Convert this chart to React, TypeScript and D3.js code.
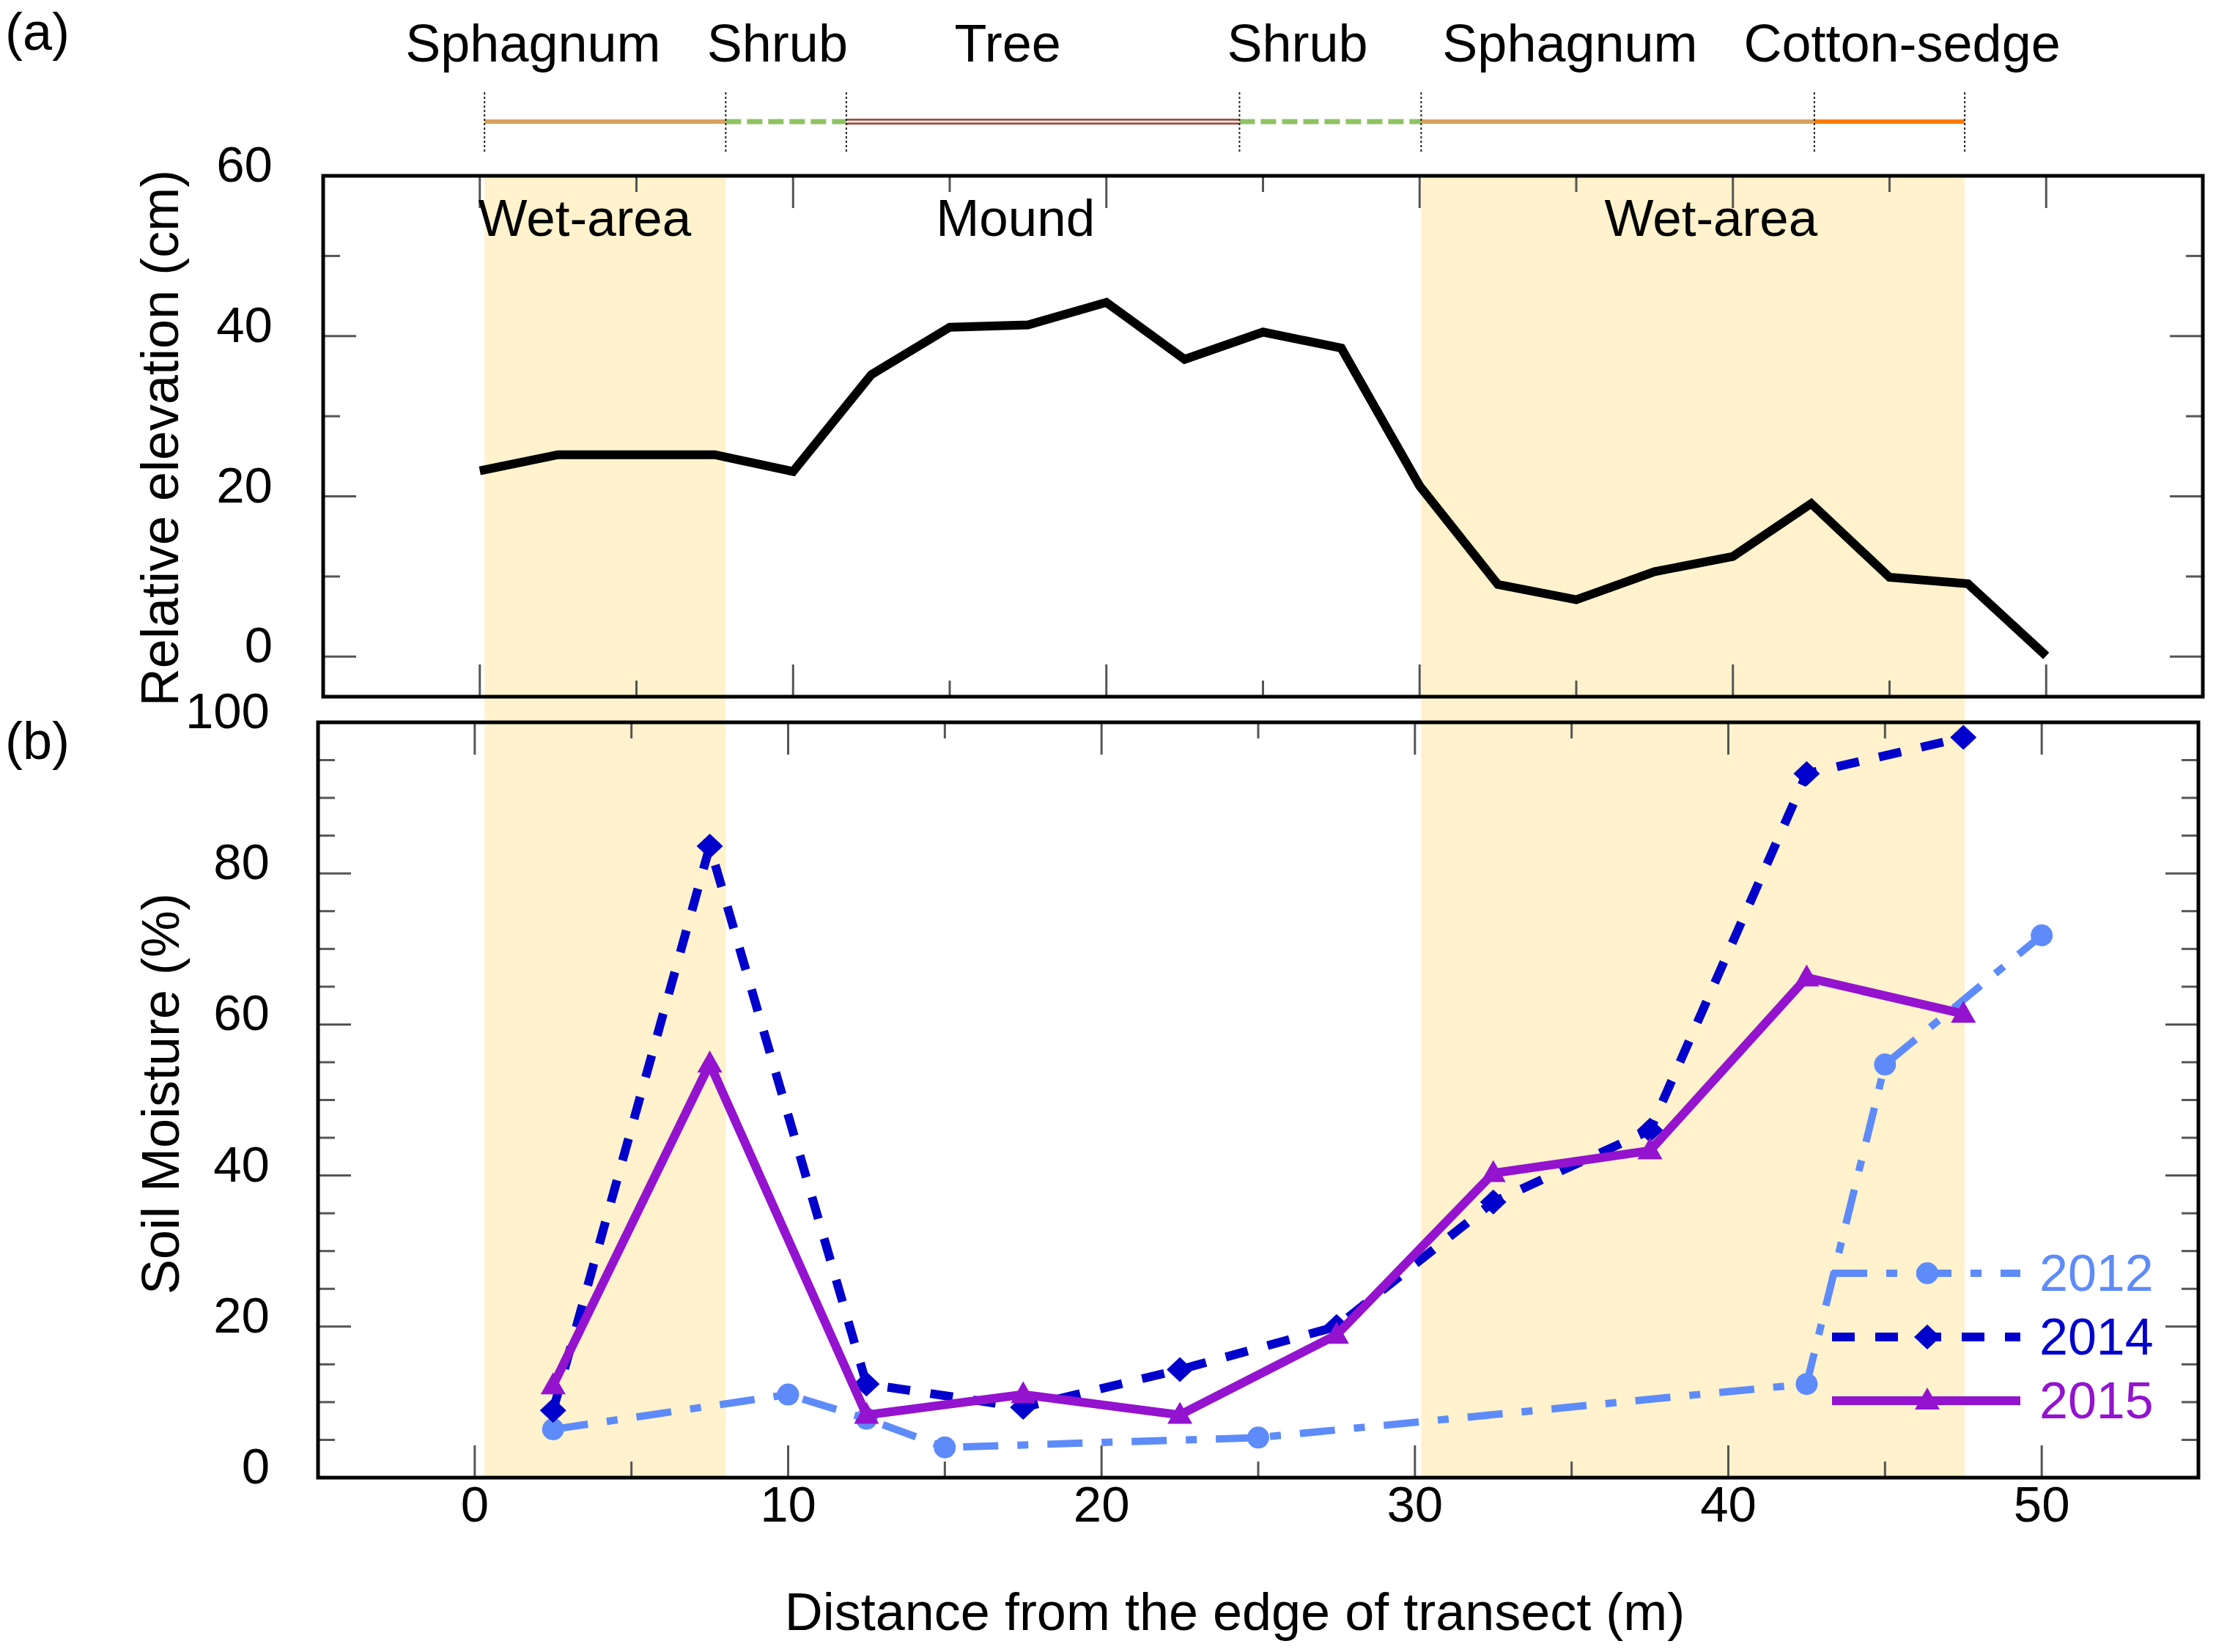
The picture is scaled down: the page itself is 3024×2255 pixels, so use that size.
// @ts-nocheck
import React from "react";
import * as d3 from "d3";

// (a) relative elevation along the transect
const elevationDistance = [0, 2.5, 5, 7.5, 10, 12.5, 15, 17.5, 20, 22.5, 25, 27.5, 30, 32.5, 35, 37.5, 40, 42.5, 45, 47.5, 50];
const elevation = [23.2, 25.2, 25.2, 25.2, 23.1, 35.2, 41.1, 41.4, 44.2, 37.1, 40.5, 38.5, 21.3, 9.0, 7.1, 10.6, 12.5, 19.1, 9.9, 9.1, 0.1];

// (b) soil moisture per year
const distance2012 = [2.5, 10, 12.5, 15, 25, 42.5, 45, 50];
const moisture2012 = [6.4, 11.0, 7.8, 4.0, 5.3, 12.4, 54.7, 71.8];
const distance2014 = [2.5, 7.5, 12.5, 17.5, 22.5, 27.5, 32.5, 37.5, 42.5, 47.5];
const moisture2014 = [8.9, 83.6, 12.4, 9.3, 14.3, 20.0, 36.5, 46.0, 93.2, 98.0];
const distance2015 = [2.5, 7.5, 12.5, 17.5, 22.5, 27.5, 32.5, 37.5, 42.5, 47.5];
const moisture2015 = [12.2, 54.8, 8.3, 11.0, 8.3, 18.9, 40.3, 43.3, 66.2, 61.4];
const years = ["2012", "2014", "2015"];

// vegetation bar above the panels
const vegetationBreaks = [0.15, 7.85, 11.7, 24.25, 30.05, 42.6, 47.4];
const vegetationTypes = ["sphagnum", "shrub", "tree", "shrub", "sphagnum", "sedge"];
const vegetationLabels = ["Sphagnum", "Shrub", "Tree", "Shrub", "Sphagnum", "Cotton-sedge"];
const vegetationLabelX = [1.7, 9.5, 16.85, 26.1, 34.8, 45.4];

// shaded wet areas and zone names
const wetAreaStart = [0.15, 30.05];
const wetAreaEnd = [7.85, 47.4];
const zoneLabels = ["Wet-area", "Mound", "Wet-area"];
const zoneLabelX = [3.35, 17.1, 39.3];

// tick labels
const xTickLabels = [0, 10, 20, 30, 40, 50];
const elevationTickLabels = [0, 20, 40, 60];
const moistureTickLabels = [0, 20, 40, 60, 80, 100];

const FONT = "'Liberation Sans', Arial, Helvetica, sans-serif";
const W = 3024;
const H = 2255;

const vegStyle = {
  sphagnum: { color: "#d9a15f", width: 6, dash: null },
  shrub: { color: "#8fc264", width: 7, dash: "21 8" },
  tree: { color: "#a24a3c", width: 8, dash: null },
  sedge: { color: "#ff7b00", width: 6, dash: null },
};

const seriesStyle = {
  "2012": { color: "#5e8bfa", width: 10, dash: "48 26 15 26", marker: "circle" },
  "2014": { color: "#0000cc", width: 12, dash: "31 28", marker: "diamond" },
  "2015": { color: "#9313cf", width: 12, dash: null, marker: "triangle" },
};

const markerPath = {
  circle: d3.arc()({ innerRadius: 0, outerRadius: 15, startAngle: 0, endAngle: 2 * Math.PI }),
  diamond: "M0,-17L18,0L0,17L-18,0Z",
  triangle: "M0,-18L17,12L-17,12Z",
};

const App = () => {
  const svgRef = React.useRef(null);

  React.useEffect(() => {
    const topBox = { left: 441, right: 3006, top: 240, bottom: 951 };
    const botBox = { left: 434, right: 3000, top: 986, bottom: 2017 };

    const xTop = d3.scaleLinear().domain([-5, 55]).range([topBox.left, topBox.right]);
    const xBot = d3.scaleLinear().domain([-5, 55]).range([botBox.left, botBox.right]);
    const yTop = d3.scaleLinear().domain([-5, 60]).range([topBox.bottom, topBox.top]);
    const yBot = d3.scaleLinear().domain([0, 100]).range([botBox.bottom, botBox.top]);

    const svgEl = d3.select(svgRef.current);
    svgEl.selectAll("*").remove();
    const svg = svgEl.append("g");

    svg.append("rect").attr("width", W).attr("height", H).attr("fill", "white");

    // wet-area shading, runs through both panels
    svg.append("g")
      .selectAll("rect")
      .data(wetAreaStart)
      .enter()
      .append("rect")
      .attr("x", (d) => xTop(d))
      .attr("width", (d, i) => xTop(wetAreaEnd[i]) - xTop(d))
      .attr("y", topBox.top)
      .attr("height", botBox.bottom - topBox.top)
      .attr("fill", "#fff2cc");

    // vegetation bar
    const vegY = 166;
    const veg = svg.append("g");
    vegetationTypes.forEach((type, i) => {
      const st = vegStyle[type];
      const x1 = xTop(vegetationBreaks[i]);
      const x2 = xTop(vegetationBreaks[i + 1]);
      const seg = veg.append("line")
        .attr("x1", x1).attr("x2", x2)
        .attr("y1", vegY).attr("y2", vegY)
        .attr("stroke", st.color)
        .attr("stroke-width", st.width);
      if (st.dash) seg.attr("stroke-dasharray", st.dash);
      if (type === "tree") {
        veg.append("line")
          .attr("x1", x1).attr("x2", x2)
          .attr("y1", vegY).attr("y2", vegY)
          .attr("stroke", "white")
          .attr("stroke-width", 2.5);
      }
    });
    veg.selectAll(".brk")
      .data(vegetationBreaks)
      .enter()
      .append("line")
      .attr("x1", (d) => xTop(d)).attr("x2", (d) => xTop(d))
      .attr("y1", 126).attr("y2", 208)
      .attr("stroke", "#222")
      .attr("stroke-width", 2)
      .attr("stroke-dasharray", "3 3");
    veg.selectAll(".lbl")
      .data(vegetationLabels)
      .enter()
      .append("text")
      .attr("x", (d, i) => xTop(vegetationLabelX[i]))
      .attr("y", 84)
      .attr("text-anchor", "middle")
      .attr("font-family", FONT)
      .attr("font-size", 72)
      .text((d) => d);

    // ticks for a panel, inward on all four sides
    const drawTicks = (box, xs, ys, xVals, yVals, xMajor, yMajor) => {
      const g = svg.append("g").attr("stroke", "#555").attr("stroke-width", 3);
      xVals.forEach((v) => {
        const len = xMajor(v) ? 44 : 22;
        const x = xs(v);
        g.append("line").attr("x1", x).attr("x2", x).attr("y1", box.bottom).attr("y2", box.bottom - len);
        g.append("line").attr("x1", x).attr("x2", x).attr("y1", box.top).attr("y2", box.top + len);
      });
      yVals.forEach((v) => {
        const len = yMajor(v) ? 45 : 23;
        const y = ys(v);
        g.append("line").attr("x1", box.left).attr("x2", box.left + len).attr("y1", y).attr("y2", y);
        g.append("line").attr("x1", box.right).attr("x2", box.right - len).attr("y1", y).attr("y2", y);
      });
    };
    drawTicks(topBox, xTop, yTop, d3.range(0, 51, 5), d3.range(0, 51, 10), (v) => v % 10 === 0, (v) => v % 20 === 0);
    drawTicks(botBox, xBot, yBot, d3.range(0, 51, 5), d3.range(5, 96, 5), (v) => v % 10 === 0, (v) => v % 20 === 0);

    // frames
    [topBox, botBox].forEach((b) => {
      svg.append("rect")
        .attr("x", b.left).attr("y", b.top)
        .attr("width", b.right - b.left).attr("height", b.bottom - b.top)
        .attr("fill", "none")
        .attr("stroke", "black")
        .attr("stroke-width", 5);
    });

    // zone labels in panel (a)
    svg.append("g")
      .selectAll("text")
      .data(zoneLabels)
      .enter()
      .append("text")
      .attr("x", (d, i) => xTop(zoneLabelX[i]))
      .attr("y", 322)
      .attr("text-anchor", "middle")
      .attr("font-family", FONT)
      .attr("font-size", 71)
      .text((d) => d);

    // elevation profile
    const elevLine = d3.line()
      .x((d, i) => xTop(elevationDistance[i]))
      .y((d) => yTop(d));
    svg.append("path")
      .attr("d", elevLine(elevation))
      .attr("fill", "none")
      .attr("stroke", "black")
      .attr("stroke-width", 12);

    // soil moisture series
    const seriesData = {
      "2012": distance2012.map((d, i) => [d, moisture2012[i]]),
      "2014": distance2014.map((d, i) => [d, moisture2014[i]]),
      "2015": distance2015.map((d, i) => [d, moisture2015[i]]),
    };
    const mLine = d3.line().x((d) => xBot(d[0])).y((d) => yBot(d[1]));
    years.forEach((yr) => {
      const st = seriesStyle[yr];
      const p = svg.append("path")
        .attr("d", mLine(seriesData[yr]))
        .attr("fill", "none")
        .attr("stroke", st.color)
        .attr("stroke-width", st.width);
      if (st.dash) p.attr("stroke-dasharray", st.dash);
      svg.append("g")
        .selectAll("path")
        .data(seriesData[yr])
        .enter()
        .append("path")
        .attr("d", markerPath[st.marker])
        .attr("transform", (d) => `translate(${xBot(d[0])},${yBot(d[1])})`)
        .attr("fill", st.color);
    });

    // legend
    const legend = svg.append("g");
    const legendRowY = [1738, 1825, 1912];
    years.forEach((yr, i) => {
      const st = seriesStyle[yr];
      const y = legendRowY[i];
      const ln = legend.append("line")
        .attr("x1", 2500).attr("x2", 2757)
        .attr("y1", y).attr("y2", y)
        .attr("stroke", st.color)
        .attr("stroke-width", st.width);
      if (st.dash) ln.attr("stroke-dasharray", st.dash);
      legend.append("path")
        .attr("d", markerPath[st.marker])
        .attr("transform", `translate(2630,${y})`)
        .attr("fill", st.color);
      legend.append("text")
        .attr("x", 2783)
        .attr("y", y + 24)
        .attr("font-family", FONT)
        .attr("font-size", 70)
        .attr("fill", st.color)
        .text(yr);
    });

    // tick labels
    const lab = svg.append("g").attr("font-family", FONT).attr("font-size", 69).attr("fill", "black");
    elevationTickLabels.forEach((v) => {
      lab.append("text").attr("x", 372).attr("y", yTop(v) + 8).attr("text-anchor", "end").text(v);
    });
    moistureTickLabels.forEach((v) => {
      lab.append("text").attr("x", 368).attr("y", yBot(v) + 8).attr("text-anchor", "end").text(v);
    });
    xTickLabels.forEach((v) => {
      lab.append("text").attr("x", xBot(v)).attr("y", 2077).attr("text-anchor", "middle").text(v);
    });

    // axis titles and panel letters
    const titles = svg.append("g").attr("font-family", FONT).attr("font-size", 72).attr("fill", "black");
    titles.append("text")
      .attr("transform", "translate(243,598) rotate(-90)")
      .attr("text-anchor", "middle")
      .text("Relative elevation (cm)");
    titles.append("text")
      .attr("transform", "translate(244,1493) rotate(-90)")
      .attr("text-anchor", "middle")
      .text("Soil Moisture (%)");
    titles.append("text")
      .attr("x", 1685).attr("y", 2225)
      .attr("text-anchor", "middle")
      .text("Distance from the edge of transect (m)");
    titles.append("text").attr("x", 7).attr("y", 68).text("(a)");
    titles.append("text").attr("x", 7).attr("y", 1036).text("(b)");
  }, []);

  return (
    <svg
      ref={svgRef}
      width={W}
      height={H}
      style={{ position: "absolute", left: 0, top: 0, display: "block" }}
    />
  );
};

export default App;
